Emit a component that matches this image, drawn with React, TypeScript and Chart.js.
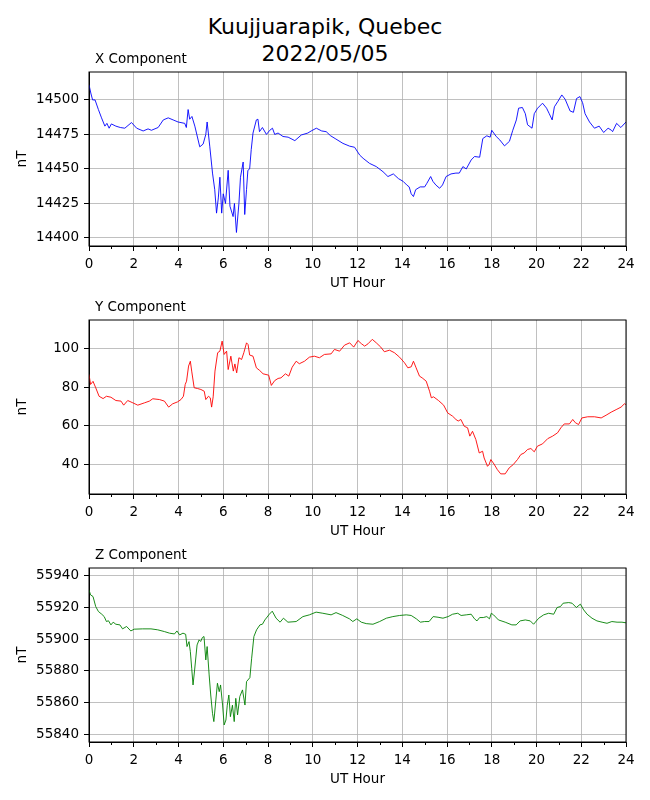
import { useEffect, useRef } from "react"
import { Chart, registerables } from "chart.js"

Chart.register(...registerables)

// hours (UT) and nT values
const xComponent: [number, number][] = [
  [0, 14511], [0.08, 14505], [0.16, 14500], [0.27, 14500], [0.42, 14493], [0.56, 14487],
  [0.71, 14481], [0.8, 14483], [0.9, 14479.5], [1.0, 14482.6], [1.2, 14481], [1.4, 14480],
  [1.6, 14479.5], [1.9, 14483.6], [2.13, 14479.5], [2.42, 14477.5], [2.64, 14479], [2.79, 14478],
  [3.09, 14480], [3.32, 14485.5], [3.54, 14487], [3.76, 14485.5], [3.98, 14484], [4.28, 14483],
  [4.35, 14480], [4.43, 14493], [4.5, 14486], [4.6, 14488], [4.73, 14481], [4.95, 14466],
  [5.1, 14468], [5.22, 14475], [5.28, 14484], [5.4, 14466], [5.52, 14447], [5.62, 14435],
  [5.7, 14418], [5.78, 14429], [5.85, 14444], [5.93, 14418], [6.0, 14432], [6.1, 14425],
  [6.22, 14449], [6.3, 14423], [6.44, 14415.5], [6.5, 14425], [6.59, 14404], [6.7, 14425],
  [6.77, 14444], [6.89, 14455], [6.96, 14417], [7.04, 14435], [7.1, 14449], [7.18, 14450],
  [7.25, 14464], [7.33, 14476], [7.48, 14485.5], [7.55, 14486], [7.62, 14477], [7.75, 14480],
  [7.93, 14475], [8.08, 14478], [8.2, 14479.5], [8.3, 14475], [8.45, 14476], [8.67, 14473.5],
  [8.9, 14473], [9.2, 14470.5], [9.49, 14474.6], [9.78, 14476], [9.93, 14477.5], [10.16, 14479.5],
  [10.4, 14477.5], [10.6, 14477], [10.8, 14474], [11.0, 14472], [11.35, 14468.5], [11.65, 14466.5],
  [11.87, 14465.7], [12.1, 14460], [12.25, 14457.7], [12.54, 14454], [12.84, 14451.7], [13.14, 14448],
  [13.36, 14444.5], [13.6, 14446.4], [13.83, 14443], [14.04, 14441], [14.2, 14438.4], [14.31, 14437],
  [14.4, 14432], [14.5, 14430], [14.6, 14435], [14.8, 14437], [15.0, 14437], [15.1, 14439.6],
  [15.27, 14444.5], [15.37, 14441], [15.5, 14438.4], [15.67, 14436], [15.8, 14438.4], [15.96, 14444.5],
  [16.18, 14446.4], [16.4, 14447], [16.55, 14447], [16.71, 14451.7], [16.86, 14450], [17.08, 14456.5],
  [17.23, 14459], [17.46, 14458.5], [17.6, 14472], [17.78, 14474], [17.93, 14473], [18.0, 14478],
  [18.2, 14473.5], [18.36, 14471], [18.57, 14466.7], [18.79, 14470], [18.94, 14478], [19.1, 14485.5],
  [19.2, 14494], [19.37, 14494.5], [19.5, 14490], [19.6, 14482], [19.8, 14479.5], [19.9, 14490],
  [20.05, 14494], [20.27, 14497.6], [20.45, 14494], [20.57, 14490], [20.7, 14485.5], [20.8, 14495],
  [20.96, 14499], [21.13, 14503.6], [21.28, 14500.5], [21.5, 14492], [21.65, 14491], [21.79, 14501],
  [21.94, 14502.4], [22.06, 14498], [22.17, 14490], [22.37, 14484], [22.59, 14479.5], [22.8, 14481],
  [23.0, 14476.4], [23.2, 14479.5], [23.35, 14478], [23.4, 14477], [23.58, 14483], [23.77, 14480],
  [24.0, 14484],
]

const yComponent: [number, number][] = [
  [0, 86.6], [0.07, 81.4], [0.18, 83], [0.3, 79.7], [0.45, 75.3], [0.63, 74.1], [0.78, 75.3],
  [0.98, 74.8], [1.2, 73.1], [1.43, 72.8], [1.55, 70.7], [1.73, 73.1], [1.96, 71.9], [2.18, 70.7],
  [2.48, 71.9], [2.7, 72.8], [2.85, 74], [3.15, 73.6], [3.37, 72.8], [3.56, 69.7], [3.74, 71.4],
  [3.96, 72.4], [4.11, 73.6], [4.22, 75.3], [4.3, 81.4], [4.36, 83.1], [4.45, 90.9], [4.53, 93.4],
  [4.59, 88.3], [4.7, 79.7], [4.85, 79.3], [5.0, 78.8], [5.15, 77.9], [5.22, 73.6], [5.34, 75.3],
  [5.42, 74.5], [5.48, 69.7], [5.55, 75], [5.63, 88.3], [5.75, 97.8], [5.85, 98.6], [5.95, 103.8],
  [6.04, 96.9], [6.15, 98.6], [6.22, 89.1], [6.34, 96], [6.45, 88.3], [6.52, 92], [6.6, 87.4],
  [6.7, 95.2], [6.82, 94.3], [6.92, 97.8], [7.04, 102.9], [7.11, 102], [7.18, 96.6], [7.33, 96],
  [7.48, 90], [7.63, 88.6], [7.78, 86.9], [8.03, 86.2], [8.15, 80.9], [8.3, 83.4], [8.45, 84.5],
  [8.58, 84.8], [8.78, 86.9], [8.93, 85.7], [9.08, 90.3], [9.26, 93.4], [9.4, 92.1], [9.63, 93.4],
  [9.85, 95.5], [10.07, 96], [10.3, 95.2], [10.52, 96.9], [10.82, 97.2], [10.97, 99.5], [11.2, 98.6],
  [11.42, 101.7], [11.65, 102.9], [11.83, 100.7], [12.02, 104.1], [12.17, 102.5], [12.32, 101.2],
  [12.47, 102.4], [12.66, 104.7], [12.84, 102.9], [13.04, 100.7], [13.2, 98.3], [13.43, 99.1],
  [13.65, 97.8], [13.88, 95.5], [14.1, 92.6], [14.25, 90], [14.4, 90.5], [14.5, 93.4], [14.62, 90],
  [14.77, 85.7], [14.89, 84.8], [15.07, 83.1], [15.22, 77.9], [15.3, 74.5], [15.4, 75], [15.62, 73.1],
  [15.85, 70.7], [16.03, 66.7], [16.25, 65], [16.4, 63.3], [16.5, 62.5], [16.62, 63.3], [16.77, 59.8],
  [16.92, 59], [17.02, 54.7], [17.14, 57.2], [17.29, 52.9], [17.44, 46], [17.59, 46.9], [17.66, 43.4],
  [17.81, 39.1], [17.88, 40], [17.96, 42.6], [18.1, 40.3], [18.25, 37.4], [18.4, 35.2], [18.6, 35.2],
  [18.78, 38.3], [18.96, 40], [19.15, 42.6], [19.3, 45.2], [19.45, 46], [19.6, 47.8], [19.75, 48.3],
  [19.9, 46.6], [20.04, 49.5], [20.27, 50.7], [20.5, 53.4], [20.72, 54.7], [20.94, 56.4], [21.09, 59],
  [21.24, 61], [21.47, 61], [21.62, 63.3], [21.74, 61.6], [21.88, 60.7], [22.03, 64.1], [22.29, 64.7],
  [22.59, 64.7], [22.89, 64.1], [23.11, 65.5], [23.34, 67.1], [23.56, 68.4], [23.78, 69.7],
  [23.93, 71.4], [24.0, 71],
]

const zComponent: [number, number][] = [
  [0, 55930.9], [0.07, 55927.7], [0.18, 55926.7], [0.3, 55920.4], [0.42, 55917.3], [0.57, 55915.6],
  [0.68, 55914.1], [0.78, 55911], [0.87, 55911.5], [0.98, 55908.9], [1.08, 55910.6], [1.2, 55909.3],
  [1.38, 55908.9], [1.5, 55906.4], [1.68, 55907.9], [1.87, 55905.1], [2.02, 55906.2], [2.4, 55906.4],
  [2.77, 55906.4], [3.07, 55905.8], [3.37, 55904.7], [3.6, 55903.7], [3.82, 55903.2], [3.93, 55905.1],
  [4.05, 55902.6], [4.2, 55903.7], [4.32, 55903], [4.38, 55895.3], [4.47, 55898.4], [4.53, 55892.1],
  [4.59, 55881.7], [4.65, 55871.2], [4.72, 55880.6], [4.83, 55896.3], [4.92, 55899.5], [4.99, 55898.5],
  [5.07, 55901], [5.14, 55901.6], [5.22, 55886.9], [5.28, 55895.3], [5.37, 55877.5], [5.44, 55864.9],
  [5.52, 55853.4], [5.58, 55848.2], [5.67, 55861.8], [5.74, 55872.3], [5.82, 55867], [5.88, 55871.2],
  [5.97, 55858.6], [6.04, 55846.1], [6.12, 55849.2], [6.18, 55858.5], [6.25, 55864.9], [6.32, 55851.3],
  [6.41, 55858.5], [6.49, 55848.2], [6.56, 55862.8], [6.64, 55852.4], [6.74, 55863.9], [6.86, 55868.1],
  [6.97, 55858.6], [7.04, 55873.3], [7.19, 55875.8], [7.27, 55888], [7.37, 55901.6], [7.49, 55905.8],
  [7.64, 55908.9], [7.75, 55909.3], [7.86, 55912], [8.06, 55915.6], [8.19, 55917.5], [8.36, 55913.1],
  [8.54, 55910.6], [8.69, 55913.1], [8.89, 55910.6], [9.26, 55911], [9.56, 55914.1], [9.85, 55915.2],
  [10.15, 55916.9], [10.45, 55916.2], [10.82, 55915.2], [11.04, 55916.6], [11.34, 55914.8],
  [11.64, 55912.7], [11.79, 55911], [11.97, 55912.7], [12.17, 55910.6], [12.39, 55909.7],
  [12.69, 55909.3], [12.99, 55911], [13.29, 55913.1], [13.58, 55914.1], [13.88, 55914.8],
  [14.18, 55915.2], [14.4, 55914.8], [14.63, 55912.7], [14.81, 55910.6], [15.0, 55911], [15.2, 55911],
  [15.38, 55914.1], [15.6, 55913.7], [15.82, 55913.1], [16.05, 55914.1], [16.25, 55915.6],
  [16.48, 55916.2], [16.63, 55914.8], [16.86, 55915.2], [17.08, 55915.6], [17.23, 55912.7],
  [17.34, 55911.4], [17.46, 55913.5], [17.62, 55913.5], [17.78, 55914.1], [17.9, 55912.7],
  [17.98, 55916.2], [18.08, 55915.2], [18.3, 55912], [18.6, 55910.6], [18.9, 55908.9], [19.09, 55908.9],
  [19.27, 55911.4], [19.5, 55912], [19.72, 55911.4], [19.87, 55909.3], [20.1, 55913.1], [20.32, 55915.2],
  [20.54, 55916.2], [20.77, 55915.6], [20.92, 55919.8], [21.07, 55920.4], [21.19, 55922.5],
  [21.44, 55922.9], [21.59, 55922.5], [21.78, 55919.8], [21.96, 55921.9], [22.11, 55918.3],
  [22.26, 55915.6], [22.48, 55913.1], [22.7, 55911.4], [22.93, 55910.6], [23.15, 55909.9],
  [23.37, 55911], [23.6, 55910.6], [23.82, 55910.6], [24.0, 55910.2],
]

const hourTicks = [0, 2, 4, 6, 8, 10, 12, 14, 16, 18, 20, 22, 24]
const minorHours = [1, 3, 5, 7, 9, 11, 13, 15, 17, 19, 21, 23]
const xTicks = [14400, 14425, 14450, 14475, 14500]
const yTicks = [40, 60, 80, 100]
const zTicks = [55840, 55860, 55880, 55900, 55920, 55940]

const FONT = "DejaVu Sans"

// axes box (all four spines), minor x ticks and the left-hand panel title
const framePlugin = {
  id: "frame",
  afterDraw(chart: any, _args: any, opts: any) {
    const { ctx, chartArea: a, scales } = chart
    ctx.save()
    ctx.strokeStyle = "#000"
    ctx.lineWidth = 1
    ctx.strokeRect(a.left, a.top, a.right - a.left, a.bottom - a.top)
    ctx.beginPath()
    for (const h of minorHours) {
      const px = Math.round(scales.x.getPixelForValue(h)) + 0.5
      ctx.moveTo(px, a.bottom)
      ctx.lineTo(px, a.bottom + 3)
    }
    ctx.stroke()
    ctx.fillStyle = "#000"
    ctx.font = `13.5px "${FONT}"`
    ctx.textAlign = "left"
    ctx.textBaseline = "middle"
    ctx.fillText(opts.text, a.left + 6, a.top - 13)
    ctx.restore()
  },
}

interface PanelProps {
  points: [number, number][]
  color: string
  label: string
  ticks: number[]
  min: number
  max: number
  top: number
}

function Panel({ points, color, label, ticks, min, max, top }: PanelProps) {
  const chartRef = useRef<HTMLCanvasElement>(null)
  const chartInstance = useRef<Chart | null>(null)

  useEffect(() => {
    if (!chartRef.current) return
    if (chartInstance.current) chartInstance.current.destroy()

    const tickFont = { family: FONT, size: 13.5 }
    const grid = {
      color: "#b0b0b0",
      lineWidth: 0.8,
      tickColor: "#000",
      tickLength: 5,
      tickWidth: 1,
    }

    chartInstance.current = new Chart(chartRef.current, {
      type: "line",
      data: {
        datasets: [
          {
            data: points.map(([x, y]) => ({ x, y })),
            borderColor: color,
            borderWidth: 0.9,
            pointRadius: 0,
            tension: 0,
            fill: false,
          },
        ],
      },
      options: {
        responsive: false,
        animation: false,
        layout: { padding: { top: 32, right: 24, left: 0, bottom: 0 } },
        plugins: {
          legend: { display: false },
          tooltip: { enabled: false },
          frame: { text: label },
        } as any,
        scales: {
          x: {
            type: "linear",
            min: 0,
            max: 24,
            afterBuildTicks: (s: any) => {
              s.ticks = hourTicks.map((v) => ({ value: v }))
            },
            afterFit: (s: any) => {
              s.height = 49
            },
            grid,
            border: { color: "#000", width: 1 },
            ticks: {
              color: "#000",
              font: tickFont,
              padding: 5,
              maxRotation: 0,
              callback: (v: any) => String(v),
            },
            title: {
              display: true,
              text: "UT Hour",
              color: "#000",
              font: { ...tickFont, lineHeight: 1.2 },
              padding: { top: 0, bottom: 3 },
            },
          },
          y: {
            type: "linear",
            min,
            max,
            afterBuildTicks: (s: any) => {
              s.ticks = ticks.map((v) => ({ value: v }))
            },
            afterFit: (s: any) => {
              s.width = 89
            },
            grid,
            border: { color: "#000", width: 1 },
            ticks: {
              color: "#000",
              font: tickFont,
              padding: 5,
              callback: (v: any) => String(v),
            },
            title: {
              display: true,
              text: "nT",
              color: "#000",
              font: { ...tickFont, lineHeight: 1.2 },
              padding: { top: 14, bottom: 0 },
            },
          },
        },
      },
      plugins: [framePlugin],
    })

    return () => {
      if (chartInstance.current) {
        chartInstance.current.destroy()
        chartInstance.current = null
      }
    }
  }, [points, color, label, ticks, min, max])

  return (
    <canvas
      ref={chartRef}
      width={650}
      height={255}
      style={{ position: "absolute", left: 0, top, width: 650, height: 255 }}
    />
  )
}

export default function App() {
  return (
    <div
      style={{
        position: "absolute",
        left: 0,
        top: 0,
        width: 650,
        height: 800,
        background: "#fff",
        fontFamily: FONT,
      }}
    >
      <div
        style={{
          position: "absolute",
          top: 14,
          left: 0,
          width: 650,
          textAlign: "center",
          fontSize: 22,
          lineHeight: "26.7px",
          color: "#000",
        }}
      >
        Kuujjuarapik, Quebec
        <br />
        2022/05/05
      </div>
      <Panel points={xComponent} color="#0000ff" label="X Component" ticks={xTicks} min={14394.2} max={14520.2} top={40} />
      <Panel points={yComponent} color="#ff0000" label="Y Component" ticks={yTicks} min={24.8} max={114.7} top={288} />
      <Panel points={zComponent} color="#008000" label="Z Component" ticks={zTicks} min={55835.4} max={55944.6} top={536} />
    </div>
  )
}
